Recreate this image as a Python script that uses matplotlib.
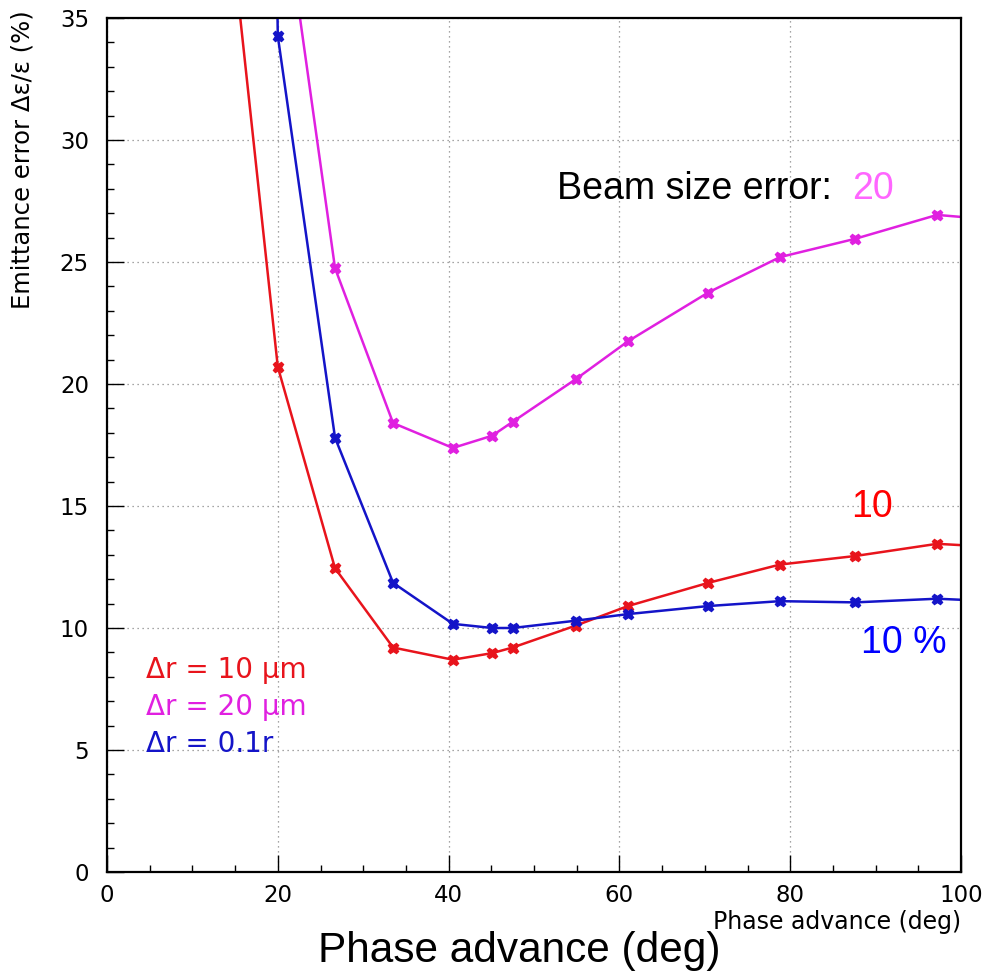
import matplotlib
matplotlib.use("Agg")
from matplotlib import pyplot as plt
from matplotlib.ticker import MultipleLocator

# phase advance (deg) of the computed points (first/last lie outside the frame)
phase = [13.3, 20.0, 26.7, 33.5, 40.5, 45.1, 47.5, 54.9, 61.0, 70.4, 78.8, 87.6, 97.2, 105.0]

# emittance error (%) for each beam size error
err_10um = [42.5, 20.7, 12.45, 9.2, 8.7, 8.97, 9.2, 10.1, 10.9, 11.85, 12.6, 12.95, 13.45, 13.3]
err_20um = [60.0, 41.5, 24.75, 18.4, 17.38, 17.88, 18.45, 20.2, 21.75, 23.75, 25.2, 25.95, 26.93, 26.7]
err_01r = [200.0, 34.26, 17.8, 11.85, 10.17, 10.0, 10.0, 10.3, 10.57, 10.9, 11.1, 11.05, 11.2, 11.08]

legend_lines = ["\u0394r = 10 \u03bcm", "\u0394r = 20 \u03bcm", "\u0394r = 0.1r"]
red = "#e8141c"
magenta = "#e020e0"
blue = "#1414c8"

fig = plt.figure(figsize=(9.84, 9.75), dpi=100)
ax = fig.add_axes([107 / 984, 103 / 975, 854 / 984, 854 / 975])

for y, c in [(err_10um, red), (err_20um, magenta), (err_01r, blue)]:
    ax.plot(phase, y, color=c, lw=1.8, marker="X", ms=7.5, mec=c, mfc=c)

ax.set_xlim(0, 100)
ax.set_ylim(0, 35)
ax.xaxis.set_major_locator(MultipleLocator(20))
ax.xaxis.set_minor_locator(MultipleLocator(5))
ax.yaxis.set_major_locator(MultipleLocator(5))
ax.yaxis.set_minor_locator(MultipleLocator(1))
ax.grid(True, which="major", ls=(0, (1, 3)), color="#888888", lw=0.9)
ax.tick_params(which="both", direction="in", labelsize=16.5, width=1)
ax.tick_params(which="major", length=12)
ax.tick_params(which="minor", length=5)
ax.tick_params(axis="y", pad=13)
ax.tick_params(axis="x", pad=9)
for s in ax.spines.values():
    s.set_linewidth(1.6)

# ROOT style axis titles
ax.text(1.0, -0.0585, "Phase advance (deg)", transform=ax.transAxes,
        ha="right", va="center", fontsize=17)
ax.text(-0.0995, 1.009, "Emittance error \u0394\u03b5/\u03b5 (%)", transform=ax.transAxes,
        rotation=90, ha="center", va="top", fontsize=17.5)

# legend written as coloured text
for i, (txt, c) in enumerate(zip(legend_lines, [red, magenta, blue])):
    ax.text(4.6, 7.95 - 1.52 * i, txt, color=c, fontsize=20, va="baseline")

# labels pasted on the slide
big = dict(family="Liberation Sans", fontsize=27, va="baseline")
ax.text(52.7, 27.6, "Beam size error:", color="black", **big)
ax.text(87.2, 27.6, "20", color="#ff66ff", **big)
ax.text(87.1, 14.55, "10", color="#ff0000", **big)
ax.text(88.3, 8.98, "10 %", color="#0000ff", **big)
fig.text(318 / 984, 13 / 975, "Phase advance (deg)", family="Liberation Sans",
         fontsize=30.5, va="baseline", ha="left")

plt.savefig("out.png", dpi=100)
